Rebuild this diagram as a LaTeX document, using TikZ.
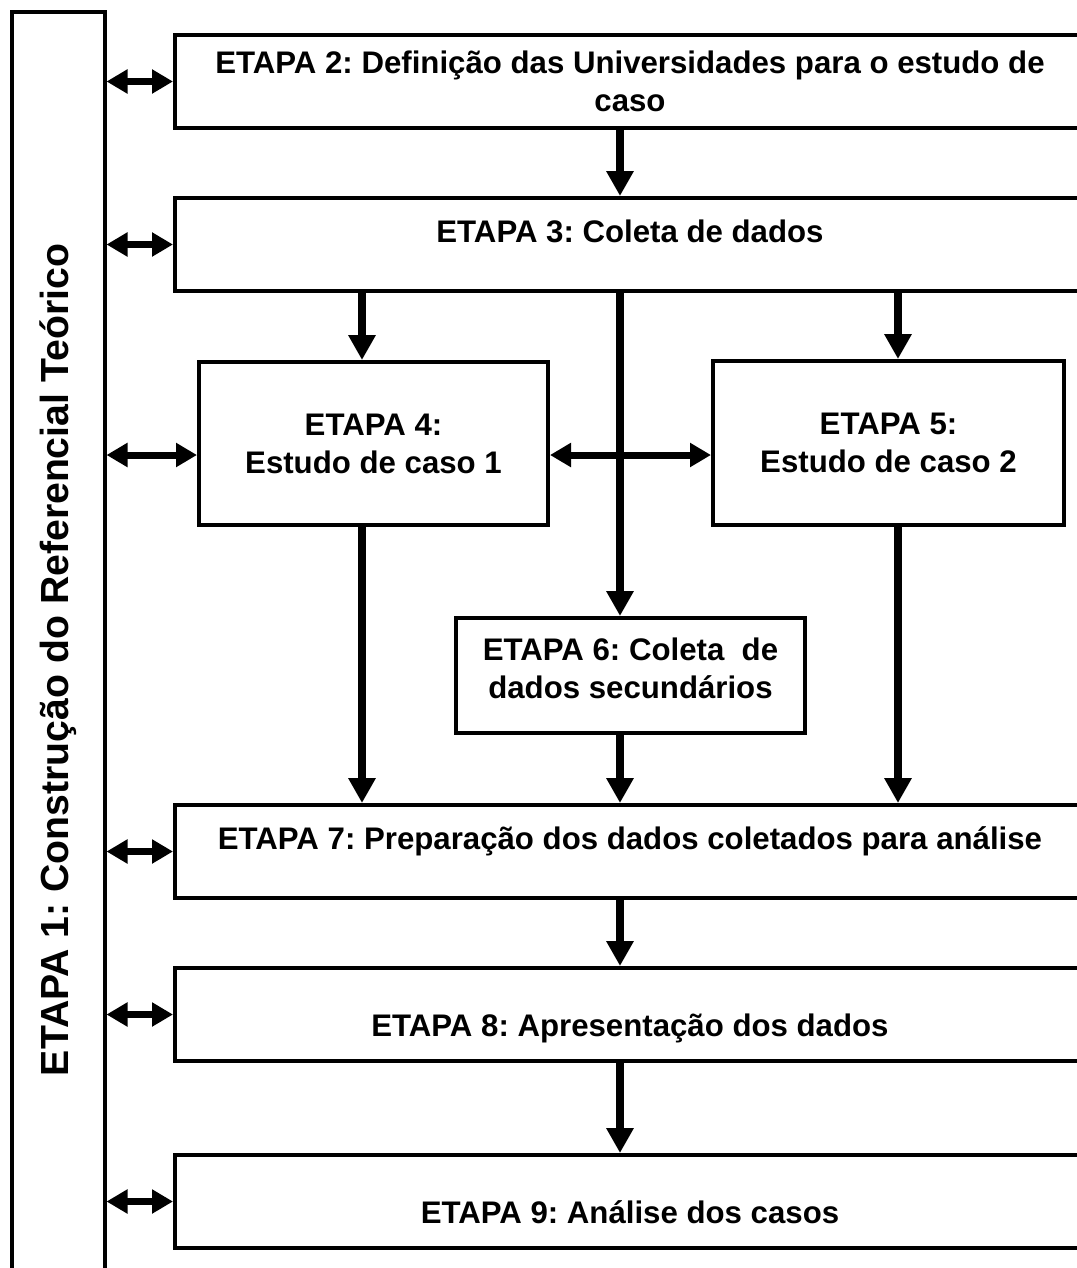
\documentclass[tikz,border=0pt]{standalone}
\usepackage{fontspec}
\setmainfont{Liberation Sans}
\usetikzlibrary{arrows.meta}
\newlength{\pxu}\setlength{\pxu}{0.75pt}
\frenchspacing
\begin{document}
\begin{tikzpicture}[x=0.75pt,y=-0.75pt,
  box/.style={draw, line width=3pt, rectangle, inner sep=0pt,
    font=\frenchspacing\bfseries\fontsize{23.4pt}{28.5pt}\selectfont},
  onel/.style={text height=18pt, text depth=21.5pt},
  lowl/.style={text height=37.8pt, text depth=5.25pt},
  multil/.style={align=center},
  wide/.style={minimum width=910*\pxu, minimum height=93*\pxu},
  darr/.style={line width=6pt, -{Triangle[length=18.75pt,width=19.5pt]}},
  dbl/.style={line width=5.25pt,
    {Triangle[length=15.75pt,width=17.25pt]}-{Triangle[length=15.75pt,width=17.25pt]}}]
\useasboundingbox (0,0) rectangle (1077,1268);
\clip (0,0) rectangle (1077,1268);

% left column (rotated: its local south is the right-hand side)
\node[box, rotate=90, minimum width=1296*\pxu, minimum height=92.5*\pxu,
  text height=21pt, text depth=6pt,
  font=\frenchspacing\bfseries\fontsize{29.4pt}{30pt}\selectfont] (L) at (58.25,660)
  {ETAPA 1: Construção do Referencial Teórico};

\node[box, multil, wide] (b2) at (630,81.5)
  {ETAPA 2: Definição das Universidades para o estudo de\\caso};
\node[box, onel, wide] (b3) at (630,244.5) {ETAPA 3: Coleta de dados};
\node[box, multil, minimum width=349*\pxu, minimum height=163*\pxu] (b4) at (373.5,443.5)
  {ETAPA 4:\\Estudo de caso 1};
\node[box, multil, minimum width=351*\pxu, minimum height=164*\pxu] (b5) at (888.5,443)
  {ETAPA 5:\\Estudo de caso 2};
\node[box, multil, minimum width=349*\pxu, minimum height=115*\pxu] (b6) at (630.5,675.5)
  {ETAPA 6: Coleta\ \ de\\dados secundários\rule[-10.5pt]{0pt}{0pt}};
\node[box, onel, wide] (b7) at (630,851.5) {ETAPA 7: Preparação dos dados coletados para análise};
\node[box, lowl, wide] (b8) at (630,1014.5) {ETAPA 8: Apresentação dos dados};
\node[box, lowl, wide] (b9) at (630,1201.5) {ETAPA 9: Análise dos casos};

\coordinate (cm) at (620,0);
\coordinate (cl) at (362,0);
\coordinate (cr) at (898,0);
\coordinate (r45) at (0,455);

% vertical flow
\draw[darr] (b2.south -| cm) -- (b3.north -| cm);
\draw[darr] (b3.south -| cl) -- (b4.north -| cl);
\draw[darr] (b3.south -| cr) -- (b5.north -| cr);
\draw[dbl] (b4.east |- r45) -- (b5.west |- r45);
\draw[darr] (b3.south -| cm) -- (b6.north -| cm);
\draw[darr] (b4.south -| cl) -- (b7.north -| cl);
\draw[darr] (b5.south -| cr) -- (b7.north -| cr);
\draw[darr] (b6.south -| cm) -- (b7.north -| cm);
\draw[darr] (b7.south -| cm) -- (b8.north -| cm);
\draw[darr] (b8.south -| cm) -- (b9.north -| cm);

% links with the left column
\draw[dbl] (L.south |- b2.west) -- (b2.west);
\draw[dbl] (L.south |- b3.west) -- (b3.west);
\draw[dbl] (L.south |- r45) -- (b4.west |- r45);
\draw[dbl] (L.south |- b7.west) -- (b7.west);
\draw[dbl] (L.south |- b8.west) -- (b8.west);
\draw[dbl] (L.south |- b9.west) -- (b9.west);
\end{tikzpicture}
\end{document}
